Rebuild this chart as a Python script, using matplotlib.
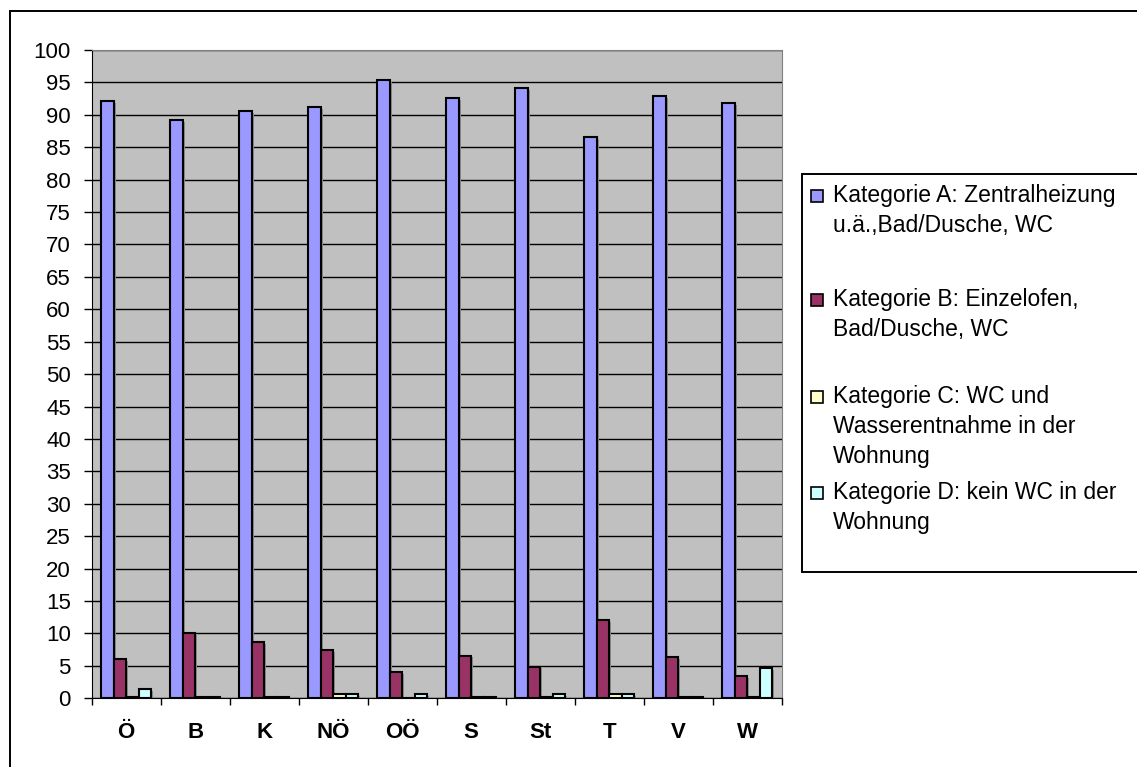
import numpy as np
import matplotlib.pyplot as plt
from matplotlib.patches import Rectangle

plt.rcParams['font.family'] = ['Liberation Sans', 'DejaVu Sans']

# Daten (Anteil der Wohnungen in %)
laender = ['Ö', 'B', 'K', 'NÖ', 'OÖ', 'S', 'St', 'T', 'V', 'W']
kat_a = [92.1, 89.2, 90.6, 91.2, 95.3, 92.6, 94.1, 86.6, 92.9, 91.8]
kat_b = [6.1, 10.1, 8.7, 7.5, 4.1, 6.6, 4.9, 12.1, 6.3, 3.4]
kat_c = [0.2, 0.2, 0.2, 0.6, 0.05, 0.2, 0.2, 0.6, 0.2, 0.2]
kat_d = [1.5, 0.2, 0.2, 0.6, 0.6, 0.2, 0.6, 0.6, 0.2, 4.6]

namen = ['Kategorie A: Zentralheizung\nu.ä.,Bad/Dusche, WC',
         'Kategorie B: Einzelofen,\nBad/Dusche, WC',
         'Kategorie C: WC und\nWasserentnahme in der\nWohnung',
         'Kategorie D: kein WC in der\nWohnung']
farben = ['#9999FF', '#993366', '#FFFFCC', '#CCFFFF']
serien = [kat_a, kat_b, kat_c, kat_d]

W, H = 1137, 767
fig = plt.figure(figsize=(W / 100, H / 100), dpi=100)

# Rahmen um das Diagramm
fig.patches.append(Rectangle((10 / W, -0.1), 1.2, 1 - 11 / H + 0.1,
                             transform=fig.transFigure, fill=False,
                             edgecolor='black', linewidth=1.4))

links, rechts, oben, unten = 91.7, 781.7, 50, 698.3
ax = fig.add_axes([links / W, 1 - unten / H, (rechts - links) / W, (unten - oben) / H])
ax.set_facecolor('#C0C0C0')

x = np.arange(len(laender))
b = 1 / 5.5
for i, (werte, farbe) in enumerate(zip(serien, farben)):
    pos = x + (i - 1.5) * b
    # Schatten
    ax.bar(pos + 0.03, np.array(werte) - 0.3, width=b, color='#8a8a8a',
           linewidth=0, zorder=2)
    ax.bar(pos, werte, width=b, color=farbe, edgecolor='black',
           linewidth=1.5, zorder=3)

ax.set_xlim(-0.5, len(laender) - 0.5)
ax.set_ylim(0, 100)
ax.set_yticks(np.arange(0, 101, 5))
ax.yaxis.grid(True, color='black', linewidth=1)
ax.set_axisbelow(True)
ax.tick_params(axis='y', labelsize=16, length=6, width=1, pad=9)

ax.set_xticks(x)
ax.set_xticklabels(laender, fontsize=16, fontweight='bold')
ax.set_xticks(np.arange(-0.5, len(laender), 1), minor=True)
ax.tick_params(axis='x', which='major', length=0, pad=17)
ax.tick_params(axis='x', which='minor', length=5, width=1)

for s in ['top', 'right']:
    ax.spines[s].set_color('#808080')
for s in ['left', 'bottom']:
    ax.spines[s].set_color('black')

# Legende
fig.patches.append(Rectangle((802 / W, 1 - 571.7 / H), 0.5, (571.7 - 174) / H,
                             transform=fig.transFigure, facecolor='white',
                             edgecolor='black', linewidth=1.4))
zeilen_y = [196, 300, 397, 493]
for name, farbe, yc in zip(namen, farben, zeilen_y):
    fig.patches.append(Rectangle((811 / W, 1 - (yc + 6) / H), 12 / W, 12 / H,
                                 transform=fig.transFigure, facecolor=farbe,
                                 edgecolor='black', linewidth=1.2))
    fig.text(833 / W, 1 - (yc - 12) / H, name, fontsize=16.5, va='top',
             ha='left', linespacing=1.4)

plt.savefig('out.png', dpi=100)
